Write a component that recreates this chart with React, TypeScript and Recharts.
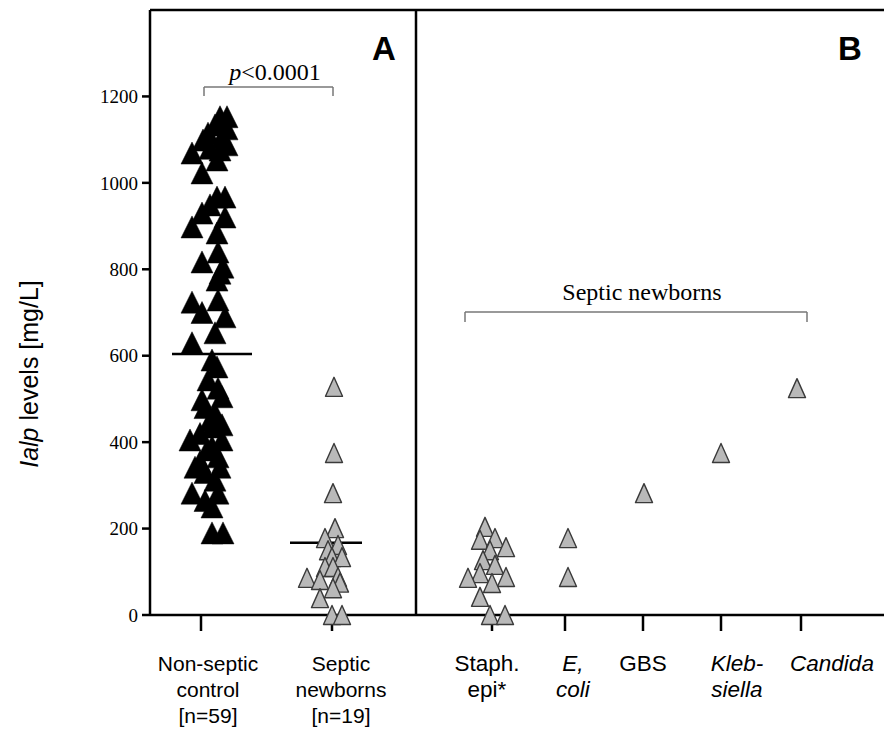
import React from "react";
import { ScatterChart, Scatter, XAxis, YAxis, ReferenceLine } from "recharts";

// axis positions of the groups (x axis is a plain layout scale, 0..73.4)
const groupPos = [5.1, 18.2, 34.2, 41.5, 49.3, 57.1, 65.1];
const groupLines = [
  ["Non-septic", "control", "[n=59]"],
  ["Septic", "newborns", "[n=19]"],
  ["Staph.", "epi*"],
  ["E,", "coli"],
  ["GBS"],
  ["Kleb-", "siella"],
  ["Candida"],
];
const groupItalic = [false, false, false, true, false, true, true];
const yTicks = [0, 200, 400, 600, 800, 1000, 1200];

// panel A, non-septic controls
const controlValues = [
  1153, 1153, 1134, 1125, 1115, 1105, 1099, 1088, 1069, 1076, 1080, 1053, 1023, 967, 967,
  949, 930, 921, 898, 884, 840, 817, 805, 791, 775, 729, 724, 700, 690, 653, 630, 574,
  590, 544, 525, 505, 498, 467, 480, 435, 405, 405, 382, 366, 420, 390, 342, 342, 312,
  330, 282, 282, 250, 265, 190, 190, 450, 355, 440,
];
const controlJitter = [
  1.9, 2.6, 1.4, 2.6, 0.7, 2.1, 0.2, 2.6, -0.9, 1.9, 0.9, 1.6, 0.1, 1.6, 2.4, 0.9, 0.1,
  2.4, -0.9, 1.6, 1.7, 0.1, 2.2, 1.9, 1.6, 1.7, -0.9, 0.1, 2.4, 1.4, -0.9, 1.6, 1.1, 0.7,
  1.7, 2.1, 0.1, 1.4, 0.4, 1.1, -1.1, 2.1, 0.6, 1.7, -0.1, 1.1, -0.6, 1.9, 1.4, 0.4, -0.9,
  1.7, 1.1, 0.4, 1.1, 2.2, 0.9, -0.1, 2.1,
];
const controlMean = 604;

// panel A, septic newborns
const septicValues = [528, 375, 282, 201, 178, 162, 150, 134, 134, 111, 111, 86, 81, 88, 75, 62, 39, 0, 0];
const septicJitter = [0.2, 0.2, 0.1, 0.3, -0.7, 0.6, -0.4, 0, 1.0, -0.7, 0.1, -2.5, -1.2, 0.6, 0.8, 0.1, -1.2, 0, 1.0];
const septicMean = 167;

// panel B, by organism
const staphValues = [204, 174, 178, 157, 150, 127, 116, 97, 86, 88, 74, 42, 0, 0];
const staphJitter = [-0.7, -1.2, 0.3, 1.4, -0.2, -0.9, 0.3, -1.2, -2.4, 1.4, 0, -1.2, -0.2, 1.3];
const ecoliValues = [178, 88];
const gbsValues = [282];
const klebValues = [375];
const candidaValues = [525];

const W = 884;
const H = 738;

const pts = (pos: number, vals: number[], jit?: number[]) =>
  vals.map((v, i) => ({ x: pos + (jit ? jit[i] : 0), y: v }));

const controlData = pts(groupPos[0], controlValues, controlJitter);
const septicData = [
  ...pts(groupPos[1], septicValues, septicJitter),
  ...pts(groupPos[2], staphValues, staphJitter),
  ...pts(groupPos[3] + 0.3, ecoliValues),
  ...pts(groupPos[4] + 0.1, gbsValues),
  ...pts(groupPos[5], klebValues),
  ...pts(groupPos[6] - 0.4, candidaValues),
];

const BlackTri = (p: any) => {
  const { cx, cy } = p;
  const w = 22, h = 22;
  return (
    <polygon
      points={`${cx},${cy - h / 2} ${cx + w / 2},${cy + h / 2} ${cx - w / 2},${cy + h / 2}`}
      fill="#000"
      stroke="#000"
      strokeWidth={0.5}
    />
  );
};

const GrayTri = (p: any) => {
  const { cx, cy } = p;
  const w = 17, h = 19;
  return (
    <polygon
      points={`${cx},${cy - h / 2} ${cx + w / 2},${cy + h / 2} ${cx - w / 2},${cy + h / 2}`}
      fill="#b9b9b9"
      stroke="#3a3a3a"
      strokeWidth={1.4}
      strokeLinejoin="round"
    />
  );
};

const labelShift = [7, 9, -5, 8, 0, 16, 31];

const XTick = (props: any) => {
  const { x, y, payload } = props;
  const i = groupPos.indexOf(payload.value);
  if (i < 0) return null;
  return (
    <text
      x={x + labelShift[i]}
      y={y}
      textAnchor="middle"
      fontFamily="'Liberation Sans', Arial, sans-serif"
      fontSize={i < 2 ? 21 : 22.5}
      fontStyle={groupItalic[i] ? "italic" : "normal"}
      fill="#000"
    >
      {groupLines[i].map((line, k) => (
        <tspan key={k} x={x + labelShift[i]} y={y + 40 + k * 26}>
          {line}
        </tspan>
      ))}
    </text>
  );
};

export default function App() {
  return (
    <div style={{ position: "absolute", left: 0, top: 0, width: W, height: H, background: "#fff" }}>
      <ScatterChart width={W} height={H} margin={{ top: 10, right: 0, bottom: 13, left: 70 }}>
        <XAxis
          type="number"
          dataKey="x"
          domain={[0, 73.4]}
          ticks={groupPos}
          interval={0}
          tick={<XTick />}
          tickSize={16}
          tickMargin={0}
          height={110}
          axisLine={{ stroke: "#000", strokeWidth: 2.5 }}
          tickLine={{ stroke: "#000", strokeWidth: 2.5 }}
        />
        <YAxis
          type="number"
          dataKey="y"
          domain={[0, 1400]}
          ticks={yTicks}
          width={80}
          tickSize={8}
          tickMargin={4}
          tick={{ fontFamily: "'Liberation Serif', 'Times New Roman', serif", fontSize: 19, fill: "#000" }}
          axisLine={{ stroke: "#000", strokeWidth: 2.5 }}
          tickLine={{ stroke: "#000", strokeWidth: 2.5 }}
        />
        <ReferenceLine y={1400} stroke="#000" strokeWidth={2.5} />
        <ReferenceLine x={26.6} stroke="#000" strokeWidth={2.5} />
        {/* p-value bracket */}
        <ReferenceLine segment={[{ x: 5.4, y: 1222 }, { x: 18.3, y: 1222 }]} stroke="#777" strokeWidth={1.5} />
        <ReferenceLine segment={[{ x: 5.4, y: 1222 }, { x: 5.4, y: 1201 }]} stroke="#777" strokeWidth={1.5} />
        <ReferenceLine segment={[{ x: 18.3, y: 1222 }, { x: 18.3, y: 1201 }]} stroke="#777" strokeWidth={1.5} />
        {/* septic newborns bracket */}
        <ReferenceLine segment={[{ x: 31.5, y: 701 }, { x: 65.7, y: 701 }]} stroke="#777" strokeWidth={1.5} />
        <ReferenceLine segment={[{ x: 31.5, y: 701 }, { x: 31.5, y: 678 }]} stroke="#777" strokeWidth={1.5} />
        <ReferenceLine segment={[{ x: 65.7, y: 701 }, { x: 65.7, y: 678 }]} stroke="#777" strokeWidth={1.5} />
        <Scatter data={controlData} shape={BlackTri} isAnimationActive={false} />
        <Scatter data={septicData} shape={GrayTri} isAnimationActive={false} />
        {/* group means */}
        <ReferenceLine segment={[{ x: 2.2, y: controlMean }, { x: 10.2, y: controlMean }]} stroke="#000" strokeWidth={2.5} />
        <ReferenceLine segment={[{ x: 14.0, y: septicMean }, { x: 21.2, y: septicMean }]} stroke="#000" strokeWidth={2.5} />
      </ScatterChart>
      <svg width={W} height={H} style={{ position: "absolute", left: 0, top: 0, pointerEvents: "none" }}>
        <text x={384} y={60} textAnchor="middle" fontFamily="'Liberation Sans', Arial, sans-serif" fontWeight="bold" fontSize={33}>A</text>
        <text x={850} y={60} textAnchor="middle" fontFamily="'Liberation Sans', Arial, sans-serif" fontWeight="bold" fontSize={33}>B</text>
        <text x={275} y={80} textAnchor="middle" fontFamily="'Liberation Serif', 'Times New Roman', serif" fontSize={24}>
          <tspan fontStyle="italic">p</tspan>&lt;0.0001
        </text>
        <text x={642} y={300} textAnchor="middle" fontFamily="'Liberation Serif', 'Times New Roman', serif" fontSize={24}>
          Septic newborns
        </text>
        <text
          x={38}
          y={374}
          transform="rotate(-90, 38, 374)"
          textAnchor="middle"
          fontFamily="'Liberation Sans', Arial, sans-serif"
          fontSize={25}
        >
          <tspan fontStyle="italic">Ialp</tspan> levels [mg/L]
        </text>
      </svg>
    </div>
  );
}
